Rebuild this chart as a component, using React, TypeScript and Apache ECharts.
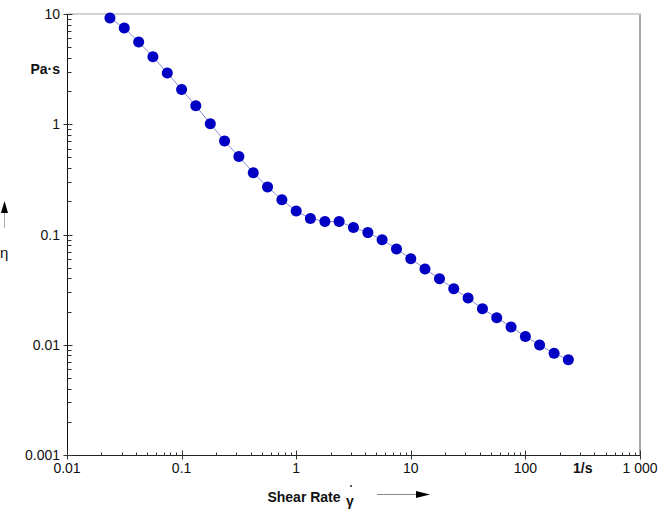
import React, { useEffect, useRef } from 'react';
import * as echarts from 'echarts';

const shearRate = [0.0237, 0.0316, 0.0422, 0.0562, 0.075, 0.1, 0.133, 0.178, 0.237, 0.316, 0.422, 0.562, 0.75, 1, 1.33, 1.78, 2.37, 3.16, 4.22, 5.62, 7.5, 10, 13.3, 17.8, 23.7, 31.6, 42.2, 56.2, 75, 100, 133, 178, 237];
const viscosity = [9.2, 7.47, 5.57, 4.1, 2.92, 2.07, 1.47, 1.01, 0.705, 0.509, 0.364, 0.27, 0.207, 0.163, 0.14, 0.131, 0.131, 0.116, 0.104, 0.0897, 0.0739, 0.0604, 0.0487, 0.0397, 0.0322, 0.0265, 0.0212, 0.0176, 0.0145, 0.0119, 0.00995, 0.00837, 0.00731];

const xTickValues = [0.01, 0.1, 1, 10, 100, 1000];
const xTickLabels = ['0.01', '0.1', '1', '10', '100', '1 000'];
const yTickValues = [0.001, 0.01, 0.1, 1, 10];
const yTickLabels = ['0.001', '0.01', '0.1', '1', '10'];

const FONT = '"Liberation Sans", Arial, sans-serif';

function fmt(values: number[], labels: string[]) {
  return (v: number) => {
    const i = values.findIndex((t) => Math.abs(Math.log10(t) - Math.log10(v)) < 1e-6);
    return i >= 0 ? labels[i] : '';
  };
}

export default function App() {
  const ref = useRef<HTMLDivElement>(null);
  useEffect(() => {
    document.body.style.margin = '0';
    const chart = echarts.init(ref.current!, null, { renderer: 'svg' });

    const xMin = xTickValues[0];
    const yMin = yTickValues[0];
    const tickData: number[][] = [];
    for (let e = -2; e <= 2; e++) for (let k = 2; k <= 9; k++) tickData.push([k * Math.pow(10, e), yMin, 0]);
    xTickValues.forEach((v) => tickData.push([v, yMin, 1]));
    for (let e = -3; e <= 0; e++) for (let k = 2; k <= 9; k++) tickData.push([xMin, k * Math.pow(10, e), 2]);
    yTickValues.forEach((v) => tickData.push([xMin, v, 3]));

    const labelStyle = { color: '#111', fontSize: 14, fontFamily: FONT };

    chart.setOption({
      animation: false,
      grid: { left: 67, right: 25, top: 14, bottom: 59, containLabel: false },
      xAxis: [
        {
          type: 'log', logBase: 10, min: 0.01, max: 1000, splitNumber: 5,
          axisLine: { show: true, lineStyle: { color: '#222', width: 1 } },
          axisTick: { show: false },
          splitLine: { show: false },
          axisLabel: { ...labelStyle, margin: 6, formatter: fmt(xTickValues, xTickLabels) },
        },
        {
          type: 'log', logBase: 10, min: 0.01, max: 1000, position: 'top',
          axisLine: { show: true, lineStyle: { color: '#d4d4d4', width: 2 } },
          axisTick: { show: false }, axisLabel: { show: false }, splitLine: { show: false },
        },
      ],
      yAxis: [
        {
          type: 'log', logBase: 10, min: 0.001, max: 10, splitNumber: 4,
          axisLine: { show: true, lineStyle: { color: '#111', width: 1 } },
          axisTick: { show: false },
          splitLine: { show: false },
          axisLabel: { ...labelStyle, margin: 7, formatter: fmt(yTickValues, yTickLabels) },
        },
        {
          type: 'log', logBase: 10, min: 0.001, max: 10, position: 'right',
          axisLine: { show: true, lineStyle: { color: '#a8a8a8', width: 2 } },
          axisTick: { show: false }, axisLabel: { show: false }, splitLine: { show: false },
        },
      ],
      series: [
        {
          type: 'custom',
          silent: true,
          clip: false,
          data: tickData,
          renderItem: (params: any, api: any) => {
            const kind = api.value(2);
            const p = api.coord([api.value(0), api.value(1)]);
            const x = Math.round(p[0]) + 0.5;
            const y = Math.round(p[1]) + 0.5;
            let shape;
            if (kind === 0) shape = { x1: x, y1: y, x2: x, y2: y - 3 };
            else if (kind === 1) shape = { x1: x, y1: y + 4, x2: x, y2: y - 5 };
            else if (kind === 2) shape = { x1: x, y1: y, x2: x + 4, y2: y };
            else shape = { x1: x - 4, y1: y, x2: x + 5, y2: y };
            return { type: 'line', shape, style: { stroke: '#333', lineWidth: 1 } };
          },
          z: 1,
        },
        {
          type: 'line',
          data: shearRate.map((x, i) => [x, viscosity[i]]),
          symbol: 'circle',
          symbolSize: 11,
          itemStyle: { color: '#0000c4' },
          lineStyle: { color: '#8a8ad6', width: 1 },
          z: 3,
        },
      ],
    });

    const pUnitX = chart.convertToPixel({ gridIndex: 0 }, [316.2, yMin]) as number[];
    const pUnitY = chart.convertToPixel({ gridIndex: 0 }, [xMin, 3.162]) as number[];

    chart.setOption({
      graphic: [
        { type: 'text', x: pUnitX[0], y: pUnitX[1] + 13, style: { text: '1/s', font: `bold 14px ${FONT}`, fill: '#111', align: 'center', verticalAlign: 'middle' } },
        { type: 'text', x: pUnitY[0] - 7, y: pUnitY[1], style: { text: 'Pa·s', font: `bold 14px ${FONT}`, fill: '#111', align: 'right', verticalAlign: 'middle' } },
        // y axis title
        { type: 'text', x: 0, y: 252, style: { text: 'η', font: `15px ${FONT}`, fill: '#111', align: 'left', verticalAlign: 'middle' } },
        { type: 'line', shape: { x1: 4.5, y1: 212, x2: 4.5, y2: 228 }, style: { stroke: '#aaa', lineWidth: 1 } },
        { type: 'polygon', shape: { points: [[4.5, 201], [1, 213], [8, 213]] }, style: { fill: '#000' } },
        // x axis title
        { type: 'text', x: 304, y: 497, style: { text: 'Shear Rate', font: `bold 14px ${FONT}`, fill: '#111', align: 'center', verticalAlign: 'middle' } },
        { type: 'text', x: 350, y: 501, style: { text: 'γ', font: `bold 14px ${FONT}`, fill: '#111', align: 'center', verticalAlign: 'middle' } },
        { type: 'circle', shape: { cx: 351, cy: 486, r: 0.9 }, style: { fill: '#111' } },
        { type: 'line', shape: { x1: 377, y1: 494.5, x2: 416, y2: 494.5 }, style: { stroke: '#888', lineWidth: 1 } },
        { type: 'polygon', shape: { points: [[430, 494.5], [416, 491], [416, 498]] }, style: { fill: '#000' } },
      ],
    });

    return () => chart.dispose();
  }, []);
  return <div ref={ref} style={{ width: 665, height: 514 }} />;
}
